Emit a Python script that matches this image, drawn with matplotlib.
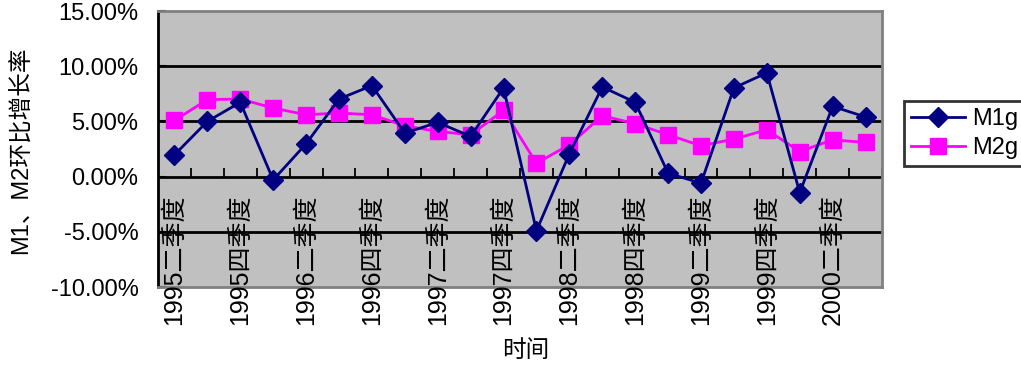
import numpy as np
import matplotlib.pyplot as plt
from matplotlib.ticker import FuncFormatter
import matplotlib.transforms as mtransforms
from matplotlib import font_manager

# quarterly ring growth of M1 and M2 (percent)
quarters = [
    "1995二季度", "1995三季度", "1995四季度", "1996一季度", "1996二季度", "1996三季度",
    "1996四季度", "1997一季度", "1997二季度", "1997三季度", "1997四季度", "1998一季度",
    "1998二季度", "1998三季度", "1998四季度", "1999一季度", "1999二季度", "1999三季度",
    "1999四季度", "2000一季度", "2000二季度", "2000三季度",
]
m1g = [1.97, 5.0, 6.73, -0.3, 2.97, 7.03, 8.24, 3.94, 4.91, 3.64, 8.03, -4.91,
       2.06, 8.12, 6.73, 0.31, -0.6, 8.03, 9.4, -1.45, 6.36, 5.4]
m2g = [5.09, 6.97, 7.03, 6.21, 5.6, 5.76, 5.6, 4.6, 4.09, 3.79, 6.0, 1.21,
       2.88, 5.52, 4.79, 3.79, 2.79, 3.4, 4.24, 2.27, 3.33, 3.09]
y_ticks = [-10, -5, 0, 5, 10, 15]

names = {f.name for f in font_manager.fontManager.ttflist}
latin = "Liberation Sans Narrow" if "Liberation Sans Narrow" in names else "Liberation Sans"
fam = [latin, "Noto Sans CJK SC", "DejaVu Sans"]
plt.rcParams["font.family"] = fam

fig = plt.figure(figsize=(10.21, 3.69), dpi=100)
ax = fig.add_axes([158 / 1021, 1 - 287 / 369, 724 / 1021, 276 / 369])
ax.set_facecolor("#C0C0C0")

x = np.arange(len(quarters))
ax.plot(x, m1g, color="#000080", lw=2, marker="D", ms=10, label="M1g", zorder=4)
ax.plot(x, m2g, color="#FF00FF", lw=2, marker="s", ms=12, label="M2g", zorder=3)

ax.set_xlim(-0.5, len(quarters) - 0.5)
ax.set_ylim(-10, 15)
ax.set_yticks(y_ticks)
ax.yaxis.set_major_formatter(FuncFormatter(lambda v, pos: f"{v:.2f}%"))
ax.tick_params(axis="y", direction="in", length=6, width=1.5, pad=14, labelsize=17)
ax.set_xticks([])
for v in y_ticks[1:-1]:
    ax.axhline(v, color="black", lw=2, zorder=1)

# category tick marks on the zero line
ax.vlines(np.arange(len(quarters) + 1) - 0.5, 0, 0.75, color="black", lw=1.3, zorder=2)

for s in ["top", "right", "bottom"]:
    ax.spines[s].set_color("#808080")
    ax.spines[s].set_linewidth(2)
ax.spines["left"].set_color("black")
ax.spines["left"].set_linewidth(2)

trans = mtransforms.blended_transform_factory(ax.transData, ax.transAxes)
for i in range(0, len(quarters), 2):
    ax.text(i, -0.138, quarters[i], transform=trans, rotation=90, ha="center",
            va="bottom", fontsize=18, zorder=5)

fig.text(526 / 1021, 1 - 351 / 369, "时间", ha="center", va="center", fontsize=17)
fig.text(22 / 1021, 1 - 150 / 369, "M1、M2环比增长率", ha="center", va="center",
         rotation=90, fontsize=17)

# legend box runs off the right edge, like the original
top = 1 - 101 / 369
leg = fig.legend(loc="upper left", bbox_to_anchor=(904 / 1021, 0.3, 130 / 1021, top - 0.3),
                 mode="expand", fontsize=17, frameon=True, fancybox=False,
                 handlelength=2.3, borderpad=0.3, labelspacing=0.3,
                 handletextpad=0.3, borderaxespad=0)
leg.get_frame().set_edgecolor("black")
leg.get_frame().set_linewidth(2)

fig.savefig("out.png", dpi=100)
